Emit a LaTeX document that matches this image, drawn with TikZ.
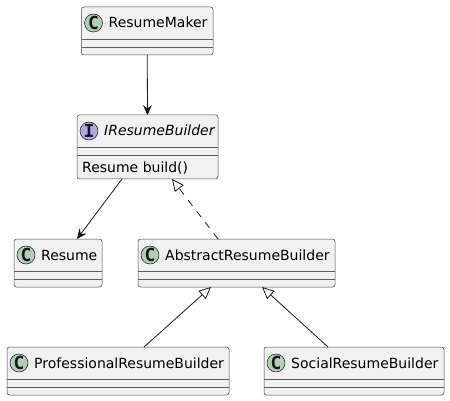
\documentclass[tikz,border=0pt]{standalone}
\usepackage{fontspec}
\setmainfont{DejaVu Sans}
\newfontfamily\iconfont{DejaVu Sans Mono Bold}
\usetikzlibrary{arrows.meta,positioning,calc}
\definecolor{umlline}{HTML}{181818}
\definecolor{umlfill}{HTML}{F1F1F1}
\definecolor{classicon}{HTML}{ADD1B2}
\definecolor{ifaceicon}{HTML}{B4A7E5}
\newcommand{\umlclass}[6]{%
  \node[classbox, minimum width=#4pt, minimum height=#5pt] (#1) at (#2,#3) {};
  \draw[sepline] ([yshift=-32pt]#1.north west) -- ([yshift=-32pt]#1.north east);
  \draw[sepline] ([yshift=-40pt]#1.north west) -- ([yshift=-40pt]#1.north east);
  \node[icon] (#1-icon) at ([xshift=12pt,yshift=-16pt]#1.north west) {C};
  \node[title, anchor=base west] (#1-title) at ([xshift=27pt,yshift=-21pt]#1.north west) {#6};
}

\begin{document}
\begin{tikzpicture}[x=1pt,y=-1pt,
  classbox/.style={draw=umlline!80, line width=0.5pt, fill=umlfill, rounded corners=2.5pt,
    anchor=north west, inner sep=0pt, outer sep=0pt},
  sepline/.style={draw=umlline!70, line width=0.5pt},
  icon/.style={circle, draw=umlline, line width=0.5pt, fill=classicon, minimum size=18pt,
    inner sep=0pt, font=\iconfont\fontsize{18}{18}\selectfont, text=umlline},
  title/.style={inner sep=0pt, font=\fontsize{14}{16}\selectfont, text=black},
  assoc/.style={draw=umlline, line width=0.8pt, -{Stealth[length=10pt,width=9pt,inset=3.5pt]}},
  extends/.style={draw=umlline, line width=0.8pt, -{Triangle[open,length=12pt,width=11pt]}},
  realizes/.style={extends, dash pattern=on 7pt off 7pt}]
  \useasboundingbox (0,0) rectangle (450,401);

  \umlclass{maker}{81.5}{7}{131.5}{48}{ResumeMaker}

  % interface with one operation
  \node[classbox, minimum width=141pt, minimum height=64pt] (builder) at (77,115) {};
  \draw[sepline] ([yshift=-32pt]builder.north west) -- ([yshift=-32pt]builder.north east);
  \draw[sepline] ([yshift=-40pt]builder.north west) -- ([yshift=-40pt]builder.north east);
  \node[icon, fill=ifaceicon] (builder-icon) at ([xshift=12pt,yshift=-16pt]builder.north west) {I};
  \node[title, anchor=base west, font=\fontsize{14}{16}\selectfont\itshape] (builder-title)
    at ([xshift=27pt,yshift=-21pt]builder.north west) {IResumeBuilder};
  \node[title, anchor=base west] (builder-op) at ([xshift=5pt,yshift=-58pt]builder.north west) {Resume build()};

  \umlclass{resume}{14}{239}{88}{48}{Resume}
  \umlclass{abstract}{138}{239}{197}{48}{AbstractResumeBuilder}
  \umlclass{professional}{7}{347}{222}{48}{ProfessionalResumeBuilder}
  \umlclass{social}{264}{347}{180}{48}{SocialResumeBuilder}

  \draw[assoc] (maker.south) -- (builder.north);
  \draw[assoc] ([xshift=45pt]builder.south west) -- ([xshift=63pt]resume.north west);
  \draw[realizes] ([xshift=80pt]abstract.north west) -- ([xshift=95pt]builder.south west);
  \draw[extends] ([xshift=137pt]professional.north west) -- ([xshift=73pt]abstract.south west);
  \draw[extends] ([xshift=64pt]social.north west) -- ([xshift=124pt]abstract.south west);
\end{tikzpicture}
\end{document}
